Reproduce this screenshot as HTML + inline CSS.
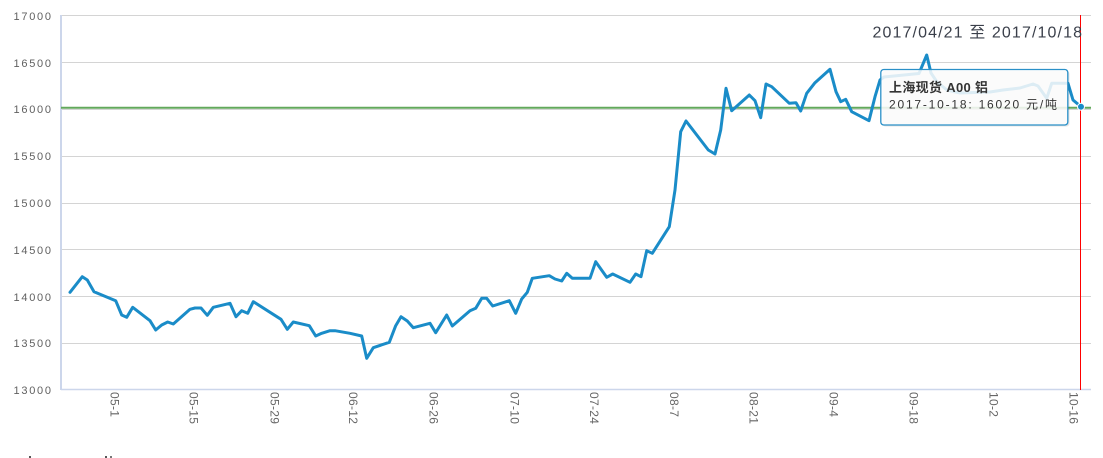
<!DOCTYPE html>
<html>
<head>
<meta charset="utf-8">
<style>
  html,body{margin:0;padding:0;background:#fff;}
  body{width:1103px;height:458px;overflow:hidden;}
  svg{display:block;}
  .yl{font-family:"Liberation Sans","Noto Sans CJK SC",sans-serif;font-size:11px;fill:#606060;}
  .xl{font-family:"Liberation Sans","Noto Sans CJK SC",sans-serif;font-size:12px;fill:#666;letter-spacing:0.3px;}
</style>
</head>
<body>
<svg width="1103" height="458" viewBox="0 0 1103 458" xmlns="http://www.w3.org/2000/svg">
  <!-- grid lines -->
  <g stroke="#d4d4d4" stroke-width="1">
    <line x1="61" y1="15.5" x2="1091" y2="15.5"/>
    <line x1="61" y1="62.5" x2="1091" y2="62.5"/>
    <line x1="61" y1="109.5" x2="1091" y2="109.5"/>
    <line x1="61" y1="156.5" x2="1091" y2="156.5"/>
    <line x1="61" y1="203.5" x2="1091" y2="203.5"/>
    <line x1="61" y1="249.5" x2="1091" y2="249.5"/>
    <line x1="61" y1="296.5" x2="1091" y2="296.5"/>
    <line x1="61" y1="343.5" x2="1091" y2="343.5"/>
  </g>
  <!-- axes -->
  <line x1="61" y1="15" x2="61" y2="390" stroke="#ccd6eb" stroke-width="2"/>
  <line x1="61" y1="389.5" x2="1091" y2="389.5" stroke="#ccd6eb" stroke-width="1.5"/>

  <!-- y labels -->
  <g class="yl" text-anchor="end">
    <text x="51" y="20" textLength="37.5" lengthAdjust="spacing">17000</text>
    <text x="51" y="67" textLength="37.5" lengthAdjust="spacing">16500</text>
    <text x="51" y="113" textLength="37.5" lengthAdjust="spacing">16000</text>
    <text x="51" y="160" textLength="37.5" lengthAdjust="spacing">15500</text>
    <text x="51" y="207" textLength="37.5" lengthAdjust="spacing">15000</text>
    <text x="51" y="254" textLength="37.5" lengthAdjust="spacing">14500</text>
    <text x="51" y="301" textLength="37.5" lengthAdjust="spacing">14000</text>
    <text x="51" y="347" textLength="37.5" lengthAdjust="spacing">13500</text>
    <text x="51" y="394" textLength="37.5" lengthAdjust="spacing">13000</text>
  </g>

  <!-- x labels (rotated) -->
  <g class="xl">
    <text transform="translate(115,392) rotate(90)" dy="0.36em">05-1</text>
    <text transform="translate(194,392) rotate(90)" dy="0.36em">05-15</text>
    <text transform="translate(275,392) rotate(90)" dy="0.36em">05-29</text>
    <text transform="translate(353.5,392) rotate(90)" dy="0.36em">06-12</text>
    <text transform="translate(434,392) rotate(90)" dy="0.36em">06-26</text>
    <text transform="translate(515,392) rotate(90)" dy="0.36em">07-10</text>
    <text transform="translate(594.5,392) rotate(90)" dy="0.36em">07-24</text>
    <text transform="translate(674.5,392) rotate(90)" dy="0.36em">08-7</text>
    <text transform="translate(754,392) rotate(90)" dy="0.36em">08-21</text>
    <text transform="translate(834,392) rotate(90)" dy="0.36em">09-4</text>
    <text transform="translate(914,392) rotate(90)" dy="0.36em">09-18</text>
    <text transform="translate(994,392) rotate(90)" dy="0.36em">10-2</text>
    <text transform="translate(1074,392) rotate(90)" dy="0.36em">10-16</text>
  </g>

  <!-- green reference line -->
  <line x1="61" y1="107.7" x2="1091" y2="107.7" stroke="#62a85c" stroke-width="2"/>

  <!-- data series -->
  <polyline fill="none" stroke="#1a8cc8" stroke-width="3" stroke-linejoin="round" stroke-linecap="round"
    points="70,292.3 82.3,276.7 87.3,280 94,291.7 115.7,300.7 121.7,315 126.7,317.3 132.7,307.3 150,320.7 155.7,330 161.7,325 167.7,322 173.3,324 190,309.3 195,308 201,308 207.3,315.3 213.3,307.3 230,303.3 236,316.7 241.7,310.7 247.7,313.3 253.3,301.7 281,319.3 287.3,329.3 293.3,322 309.3,325.7 315.7,336 321.7,333.3 330,330.7 335,330.7 350,333.3 361.7,336 366.7,358.3 373.3,347.7 389.3,342.3 395.7,325.7 401,316.7 407.3,321 413.3,327.7 430,323.3 435.7,332.7 446.7,315 452.3,326 470,310.7 475.7,308.3 481.7,298.3 486.7,298.3 492.7,306 509.3,300.7 515.7,313.3 521.7,299 527.3,292.3 532.3,278.3 549.3,275.7 555,279 561.7,281 566.7,273.3 572.3,278.3 590,278.3 595.7,261.7 606.7,277.3 612.7,274 630,282.3 635.7,274 641,276.7 646.7,250.7 652.3,253.3 669.3,226.7 675,190 680.7,131.7 686,121 708.3,150 715,154 720.7,130 726,88.3 731.7,110.7 749.3,95 755,100.7 760.7,117.7 766,84 771.7,86.7 789.3,103.3 796,102.7 800.7,111 806.7,93.3 815,82.7 830,69.3 836,91.7 840.7,101.7 845.7,99.3 851.7,111.7 869,120.7 875,96.7 880,80 884,77 919,73.5 926.7,55 931,73 937,82 947,90 960,93 990,92 1003,90 1020,88 1033,84 1038,86 1046.7,98.3 1051.7,83.3 1068,83.3 1073,100 1081,106.7"/>

  <!-- red crosshair -->
  <line x1="1080.5" y1="15" x2="1080.5" y2="390" stroke="#ff0000" stroke-width="1"/>

  <!-- marker -->
  <circle cx="1081" cy="106.7" r="3.5" fill="#1a8cc8" stroke="#ffffff" stroke-width="1"/>

  <!-- date range title -->
  <text x="872.5" y="37.3" textLength="209.5" lengthAdjust="spacing"
        style="font-family:'Liberation Sans','Noto Sans CJK SC',sans-serif;font-size:16px;fill:#3a3f4a;">2017/04/21 至 2017/10/18</text>

  <!-- tooltip -->
  <rect x="882.5" y="71" width="187" height="55.5" rx="3" fill="rgba(0,0,0,0.10)"/>
  <rect x="880.8" y="69.5" width="187" height="55.5" rx="3" fill="rgba(255,255,255,0.85)" stroke="#2a90c8" stroke-width="1.3"/>
  <text x="889" y="92" textLength="99" lengthAdjust="spacing"
        style="font-family:'Liberation Sans','Noto Sans CJK SC',sans-serif;font-size:13px;font-weight:bold;fill:#333;">上海现货 A00 铝</text>
  <text x="889" y="108.3" textLength="168" lengthAdjust="spacing"
        style="font-family:'Liberation Sans','Noto Sans CJK SC',sans-serif;font-size:12px;fill:#333;">2017-10-18: 16020 元/吨</text>

  <!-- clipped bottom marks -->
  <rect x="29" y="456" width="2" height="2" fill="#555"/>
  <rect x="105" y="456" width="2" height="2" fill="#555"/>
  <rect x="110" y="456" width="2" height="2" fill="#777"/>
</svg>
</body>
</html>
